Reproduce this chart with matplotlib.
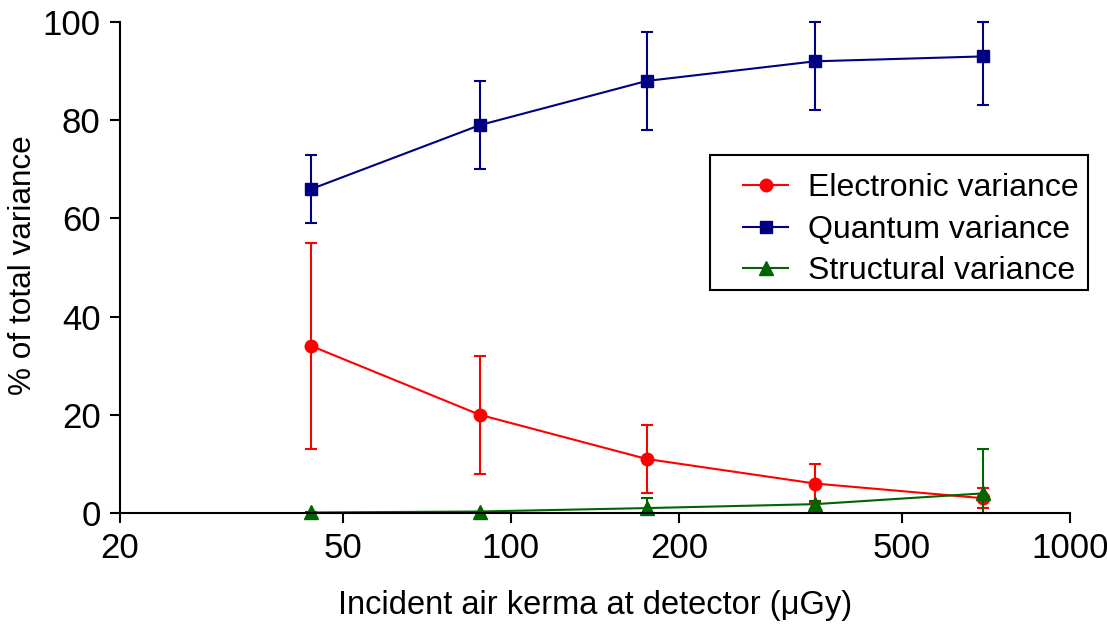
import numpy as np
import matplotlib.pyplot as plt
from matplotlib.patches import Rectangle

plt.rcParams['font.family'] = ['Liberation Sans', 'DejaVu Sans']

kerma = [44, 88, 175, 350, 700]

electronic = [34, 20, 11, 6, 3]
electronic_lo = [13, 8, 4, 2, 1]
electronic_hi = [55, 32, 18, 10, 5]

quantum = [66, 79, 88, 92, 93]
quantum_lo = [59, 70, 78, 82, 83]
quantum_hi = [73, 88, 98, 100, 100]

structural = [0.1, 0.3, 1, 1.8, 4]
structural_lo = [0.1, 0.3, 0, 0.8, 0]
structural_hi = [0.1, 0.3, 3, 2.5, 13]

fig = plt.figure(figsize=(11.07, 6.24), dpi=100)
ax = fig.add_axes([0.1084, 0.1779, 0.8582, 0.7868])

def draw(y, lo, hi, color, marker, label, ms):
    y = np.array(y)
    err = [y - np.array(lo), np.array(hi) - y]
    ax.errorbar(kerma, y, yerr=err, fmt='none', ecolor=color,
                elinewidth=1.5, capsize=4.5, capthick=1.5, clip_on=False)
    ax.plot(kerma, y, color=color, marker=marker, markersize=ms,
            linewidth=1.5, label=label, clip_on=False)

draw(electronic, electronic_lo, electronic_hi, '#FF0000', 'o', 'Electronic variance', 9)
draw(quantum, quantum_lo, quantum_hi, '#000080', 's', 'Quantum variance', 9)
draw(structural, structural_lo, structural_hi, '#006400', '^', 'Structural variance', 9.5)

ax.set_xscale('log')
ax.set_xlim(20, 1000)
ax.set_ylim(0, 100)
ax.set_xticks([20, 50, 100, 200, 500, 1000])
ax.set_xticklabels(['20', '50', '100', '200', '500', '1000'])
ax.xaxis.set_minor_locator(plt.NullLocator())
ax.set_yticks([0, 20, 40, 60, 80, 100])

ax.spines['top'].set_visible(False)
ax.spines['right'].set_visible(False)
for s in ['left', 'bottom']:
    ax.spines[s].set_linewidth(1.5)
ax.tick_params(axis='both', labelsize=25, direction='out', length=7, width=1.5, pad=7)

ax.set_xlabel('Incident air kerma at detector (\u03bcGy)', fontsize=23.5, labelpad=18)
ax.set_ylabel('% of total variance', fontsize=22.7)
ax.yaxis.set_label_coords(-0.086, 0.505)

# legend frame drawn separately so the inner padding can match
ax.add_patch(Rectangle((0.621, 0.454), 0.398, 0.275, transform=ax.transAxes,
                       facecolor='white', edgecolor='black', linewidth=1.5,
                       clip_on=False, zorder=4))
leg = ax.legend(loc='center left', bbox_to_anchor=(0.656, 0.577), fontsize=23,
                frameon=False, handlelength=1.4, borderpad=0, borderaxespad=0,
                labelspacing=0.36, handletextpad=0.63)
leg.set_zorder(5)

fig.savefig('out.png', dpi=100)
